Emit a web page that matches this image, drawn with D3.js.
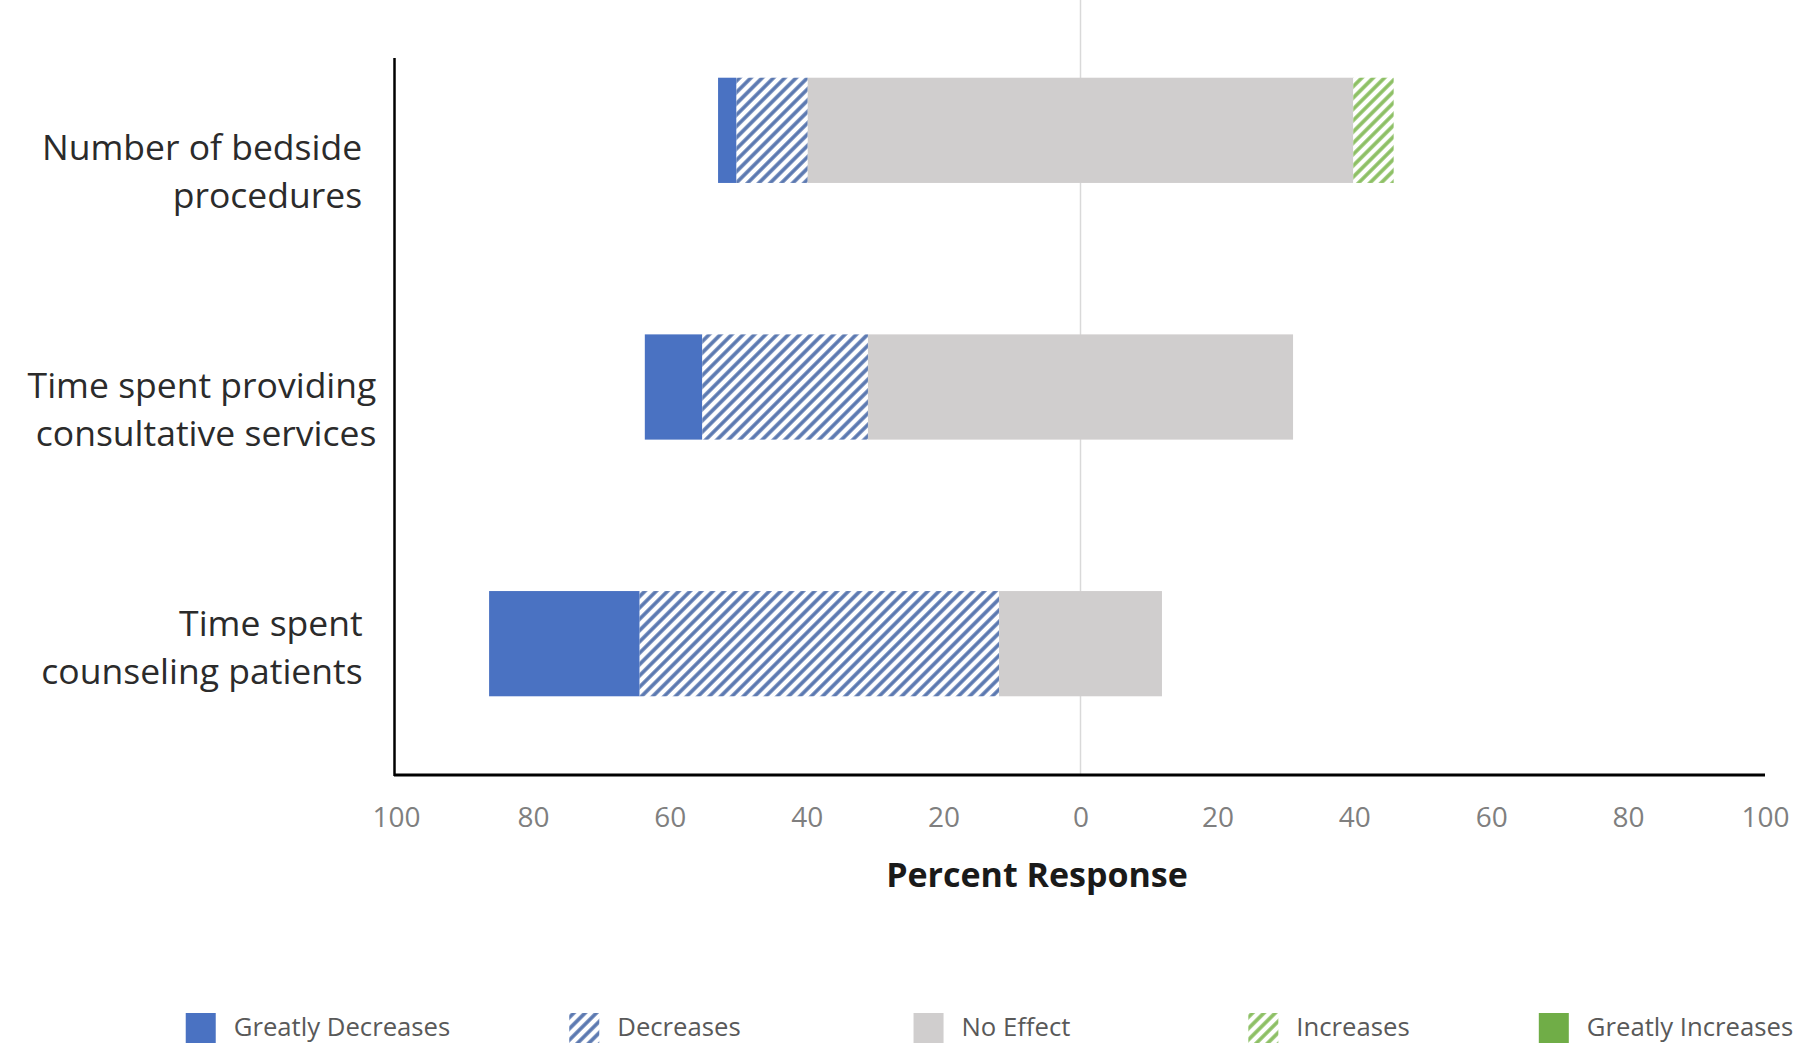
<!DOCTYPE html>
<html>
<head>
<meta charset="utf-8">
<script src="https://cdn.jsdelivr.net/npm/d3@7"></script>
<style>
  body { margin: 0; background: #fff; }
  svg { display: block; font-family: "Open Sans", sans-serif; }
</style>
</head>
<body>
<div id="chart"></div>
<script>
var width = 1800
var height = 1062

// data (percent of respondents)
var categories = ["bedside", "consult", "counsel"]
var categoryLabels = [
  ["Number of bedside", "procedures"],
  ["Time spent providing", "consultative services"],
  ["Time spent", "counseling patients"]
]
var greatlyDecreases = [2.7, 8.4, 22.0]
var decreases = [10.4, 24.2, 52.5]
var noEffect = [79.7, 62.1, 23.8]
var increases = [5.9, 0, 0]
var greatlyIncreases = [0, 0, 0]

var seriesNames = ["Greatly Decreases", "Decreases", "No Effect", "Increases", "Greatly Increases"]
var xTicks = [-100, -80, -60, -40, -20, 0, 20, 40, 60, 80, 100]

var svg = d3.select("#chart").append("svg")
  .attr("width", width)
  .attr("height", height)

var defs = svg.append("defs")

function hatch(id, color) {
  var p = defs.append("pattern")
    .attr("id", id)
    .attr("patternUnits", "userSpaceOnUse")
    .attr("width", 8)
    .attr("height", 8)
    .attr("patternTransform", "rotate(45)")
  p.append("rect").attr("width", 8).attr("height", 8).attr("fill", "#fff")
  p.append("line")
    .attr("x1", 2).attr("y1", 0).attr("x2", 2).attr("y2", 8)
    .attr("stroke", color)
    .attr("stroke-width", 3.6)
}
hatch("hatchBlue", "#5a78b0")
hatch("hatchGreen", "#8cbf63")

var fills = ["#4a72c2", "url(#hatchBlue)", "#d0cece", "url(#hatchGreen)", "#70ad47"]

var x = d3.scaleLinear().domain([-100, 100]).range([396, 1765])

var y = d3.scaleBand()
  .domain(categories)
  .range([2, 772])
  .paddingInner(0.59)
  .paddingOuter(0.295)

// labels sit on their own spacing in the original
var yLabel = d3.scalePoint().domain(categories).range([172, 648])

// build stacked segments, no effect split around zero
var segments = []
categories.forEach(function (c, i) {
  var vals = [greatlyDecreases[i], decreases[i], noEffect[i], increases[i], greatlyIncreases[i]]
  var start = -(noEffect[i] / 2 + decreases[i] + greatlyDecreases[i])
  vals.forEach(function (v, k) {
    if (v > 0) segments.push({ cat: c, k: k, x0: start, x1: start + v })
    start += v
  })
})

// zero gridline
svg.append("line")
  .attr("x1", x(0)).attr("x2", x(0))
  .attr("y1", 0).attr("y2", 775)
  .attr("stroke", "#d9d9d9")
  .attr("stroke-width", 1.5)

svg.append("g")
  .selectAll("rect")
  .data(segments)
  .enter().append("rect")
  .attr("x", function (d) { return x(d.x0) })
  .attr("width", function (d) { return x(d.x1) - x(d.x0) })
  .attr("y", function (d) { return y(d.cat) })
  .attr("height", y.bandwidth())
  .attr("fill", function (d) { return fills[d.k] })

// x axis
var xAxis = svg.append("g")
  .attr("transform", "translate(0,775)")
  .call(d3.axisBottom(x)
    .tickValues(xTicks)
    .tickSize(0)
    .tickPadding(32)
    .tickFormat(function (d) { return Math.abs(d) }))
xAxis.select(".domain")
  .attr("stroke", "#000")
  .attr("stroke-width", 3)
  .attr("d", "M" + (x(-100) - 2) + ",0H" + x(100))
xAxis.selectAll("text")
  .attr("font-family", "Open Sans, sans-serif")
  .attr("font-size", 28)
  .attr("fill", "#7f7f7f")

// y axis line
svg.append("line")
  .attr("x1", 394.5).attr("x2", 394.5)
  .attr("y1", 58).attr("y2", 776)
  .attr("stroke", "#000")
  .attr("stroke-width", 2.5)

// category labels: block centred, lines right aligned inside it
var labels = svg.append("g")
  .selectAll("text")
  .data(categories)
  .enter().append("text")
  .attr("text-anchor", "end")
  .attr("font-size", 35.5)
  .attr("fill", "#2b2b2b")
labels.each(function (c, i) {
  var t = d3.select(this)
  var spans = categoryLabels[i].map(function (line, j) {
    return t.append("tspan")
      .attr("y", yLabel(c) - 12 + j * 48)
      .text(line)
  })
  var w = d3.max(spans, function (s) { return s.node().getComputedTextLength() })
  spans.forEach(function (s) { s.attr("x", 202 + w / 2) })
})

// axis title
svg.append("text")
  .attr("x", 1037)
  .attr("y", 887)
  .attr("text-anchor", "middle")
  .attr("font-size", 34)
  .attr("font-weight", "bold")
  .attr("fill", "#1a1a1a")
  .text("Percent Response")

// legend
var legendX = d3.scalePoint().domain(seriesNames).range([318, 1666])
var legend = svg.append("g")
  .selectAll("g")
  .data(seriesNames)
  .enter().append("g")

legend.each(function (name, k) {
  var g = d3.select(this)
  var txt = g.append("text")
    .attr("y", 1036)
    .attr("font-size", 25.7)
    .attr("fill", "#595959")
    .text(name)
  var w = txt.node().getComputedTextLength()
  var total = 30 + 18 + w
  var left = legendX(name) - total / 2
  g.insert("rect", "text")
    .attr("x", left)
    .attr("y", 1013)
    .attr("width", 30)
    .attr("height", 30)
    .attr("fill", fills[k])
  txt.attr("x", left + 48)
})
</script>
</body>
</html>
